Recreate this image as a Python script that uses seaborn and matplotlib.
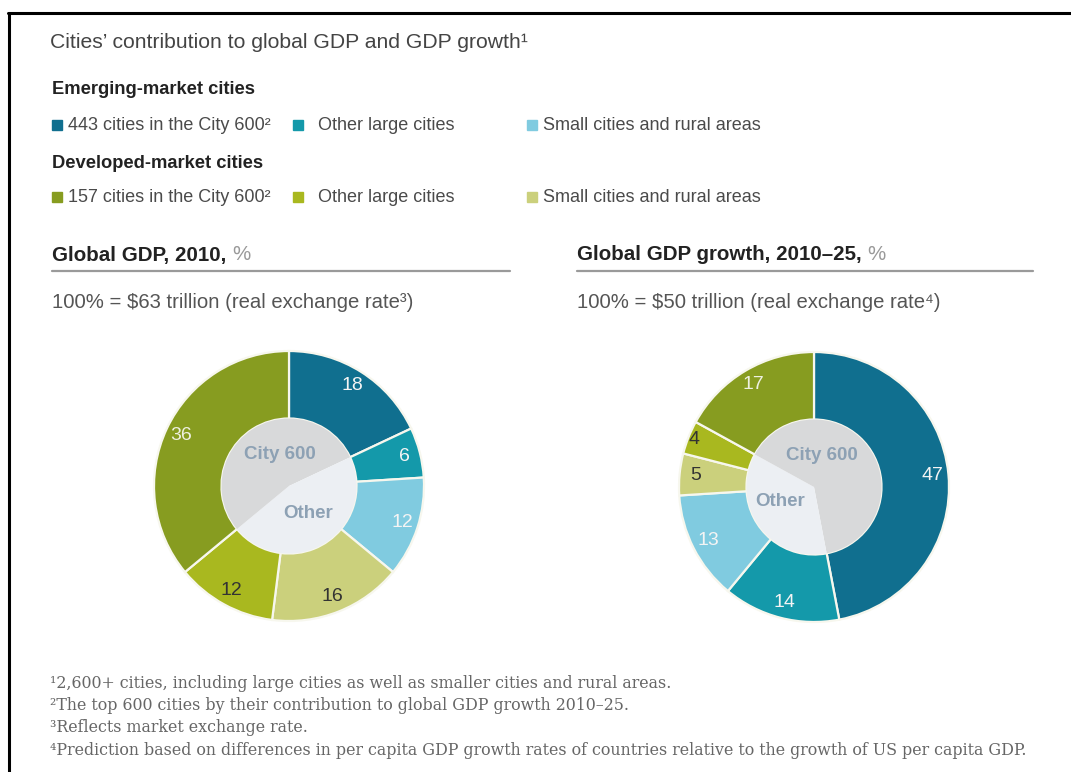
import numpy as np
import matplotlib
matplotlib.use("Agg")
import matplotlib.pyplot as plt
from matplotlib.lines import Line2D
import seaborn as sns

# ---------------- data ----------------
categories = ["Emerging: City 600", "Emerging: other large", "Emerging: small/rural",
              "Developed: small/rural", "Developed: other large", "Developed: City 600"]
gdp_2010 = [18, 6, 12, 16, 12, 36]
gdp_growth = [47, 14, 13, 5, 4, 17]
inner_labels = ["City 600", "Other"]

title = "Cities\u2019 contribution to global GDP and GDP growth\u00b9"
emerging_head = "Emerging-market cities"
developed_head = "Developed-market cities"
emerging_legend = ["443 cities in the City 600\u00b2", "Other large cities", "Small cities and rural areas"]
developed_legend = ["157 cities in the City 600\u00b2", "Other large cities", "Small cities and rural areas"]
left_head = ("Global GDP, 2010, ", "%")
right_head = ("Global GDP growth, 2010\u201325, ", "%")
left_sub = "100% = $63 trillion (real exchange rate\u00b3)"
right_sub = "100% = $50 trillion (real exchange rate\u2074)"
footnotes = [
    "\u00b92,600+ cities, including large cities as well as smaller cities and rural areas.",
    "\u00b2The top 600 cities by their contribution to global GDP growth 2010\u201325.",
    "\u00b3Reflects market exchange rate.",
    "\u2074Prediction based on differences in per capita GDP growth rates of countries relative to the growth of US per capita GDP.",
]

# ---------------- style ----------------
sns.set_theme(style="white")
plt.rcParams["font.family"] = ["Liberation Sans", "DejaVu Sans"]

ring_colors = sns.color_palette(["#106f8f", "#1499aa", "#80cbe0", "#cbd07c", "#a9b81f", "#879c20"])
label_colors = ["#f4f4f4", "#f4f4f4", "#f4f4f4", "#333333", "#333333", "#eef0e0"]
c600_color = "#d8d9da"
other_color = "#eceff3"
inner_text_color = "#8da1b4"

W, H = 1071, 772
fig = plt.figure(figsize=(W / 100, H / 100), dpi=100)
fig.patch.set_facecolor("white")


def fx(x):
    return x / W


def fy(y):
    return 1 - y / H


def ftext(x, y, s, **kw):
    kw.setdefault("va", "center")
    kw.setdefault("ha", "left")
    return fig.text(fx(x), fy(y), s, **kw)


# frame lines (top and left)
fig.add_artist(Line2D([fx(8), 1], [fy(13), fy(13)], color="black", lw=2.2))
fig.add_artist(Line2D([fx(9), fx(9)], [fy(13), 0], color="black", lw=2.2))

# title
ftext(50, 42, title, fontsize=15.2, color="#444444")

# legend blocks
ftext(52, 90, emerging_head, fontsize=13.2, fontweight="bold", color="#222222")
ftext(52, 163, developed_head, fontsize=13.2, fontweight="bold", color="#222222")
sq_x = [52, 293, 527]
tx_x = [68, 318, 543]
for row_y, labels, cols in [(125, emerging_legend, ring_colors[0:3]),
                            (197, developed_legend, [ring_colors[5], ring_colors[4], ring_colors[3]])]:
    for sx, tx, lab, col in zip(sq_x, tx_x, labels, cols):
        fig.patches.append(plt.Rectangle((fx(sx), fy(row_y + 5)), 10 / W, 10 / H,
                                         transform=fig.transFigure, color=col, figure=fig))
        ftext(tx, row_y, lab, fontsize=13, color="#4a4a4a")

# section heads
for x0, x1, head, sub in [(52, 510, left_head, left_sub), (577, 1033, right_head, right_sub)]:
    t = ftext(x0, 255, head[0], fontsize=14.8, fontweight="bold", color="#222222")
    fig.canvas.draw()
    bb = t.get_window_extent()
    fig.text(bb.x1 / W, fy(255), head[1], fontsize=14.8, color="#999999", va="center", ha="left")
    fig.add_artist(Line2D([fx(x0), fx(x1)], [fy(271), fy(271)], color="#9a9a9a", lw=1.6))
    ftext(x0, 302, sub, fontsize=14.6, color="#555555")


# pies
def draw_pie(cx, cy, r, values, c600_pos, other_pos):
    ax = fig.add_axes([fx(cx - r), fy(cy + r), 2 * r / W, 2 * r / H])
    wedges, _ = ax.pie(values, colors=ring_colors, startangle=90, counterclock=False, radius=1,
                       wedgeprops=dict(width=0.5, edgecolor="#f7f7ee", linewidth=1.6))
    inner_vals = [values[0], sum(values[1:5]), values[5]]
    ax.pie(inner_vals, colors=[c600_color, other_color, c600_color], startangle=90,
           counterclock=False, radius=0.5,
           wedgeprops=dict(edgecolor="none", linewidth=0))
    for w, v, lc in zip(wedges, values, label_colors):
        ang = np.deg2rad((w.theta1 + w.theta2) / 2)
        d = 0.88 if v >= 5 else 0.96
        ax.text(d * np.cos(ang), d * np.sin(ang), str(v), ha="center", va="center",
                fontsize=14, color=lc)
    ax.text(*c600_pos, inner_labels[0], ha="center", va="center", fontsize=13.5,
            fontweight="bold", color=inner_text_color)
    ax.text(*other_pos, inner_labels[1], ha="center", va="center", fontsize=13.5,
            fontweight="bold", color=inner_text_color)
    ax.set_xlim(-1, 1)
    ax.set_ylim(-1, 1)
    ax.set_aspect("equal")
    ax.axis("off")
    return ax


draw_pie(289, 486, 135, gdp_2010, (-0.07, 0.23), (0.14, -0.20))
draw_pie(814, 487, 135, gdp_growth, (0.06, 0.23), (-0.25, -0.11))

# footnotes
for i, fn in enumerate(footnotes):
    ftext(50, 683 + i * 22.5, fn, fontsize=11.4, color="#666666",
          family=["DejaVu Serif", "Liberation Serif"])

fig.savefig("out.png", dpi=100, facecolor="white")
